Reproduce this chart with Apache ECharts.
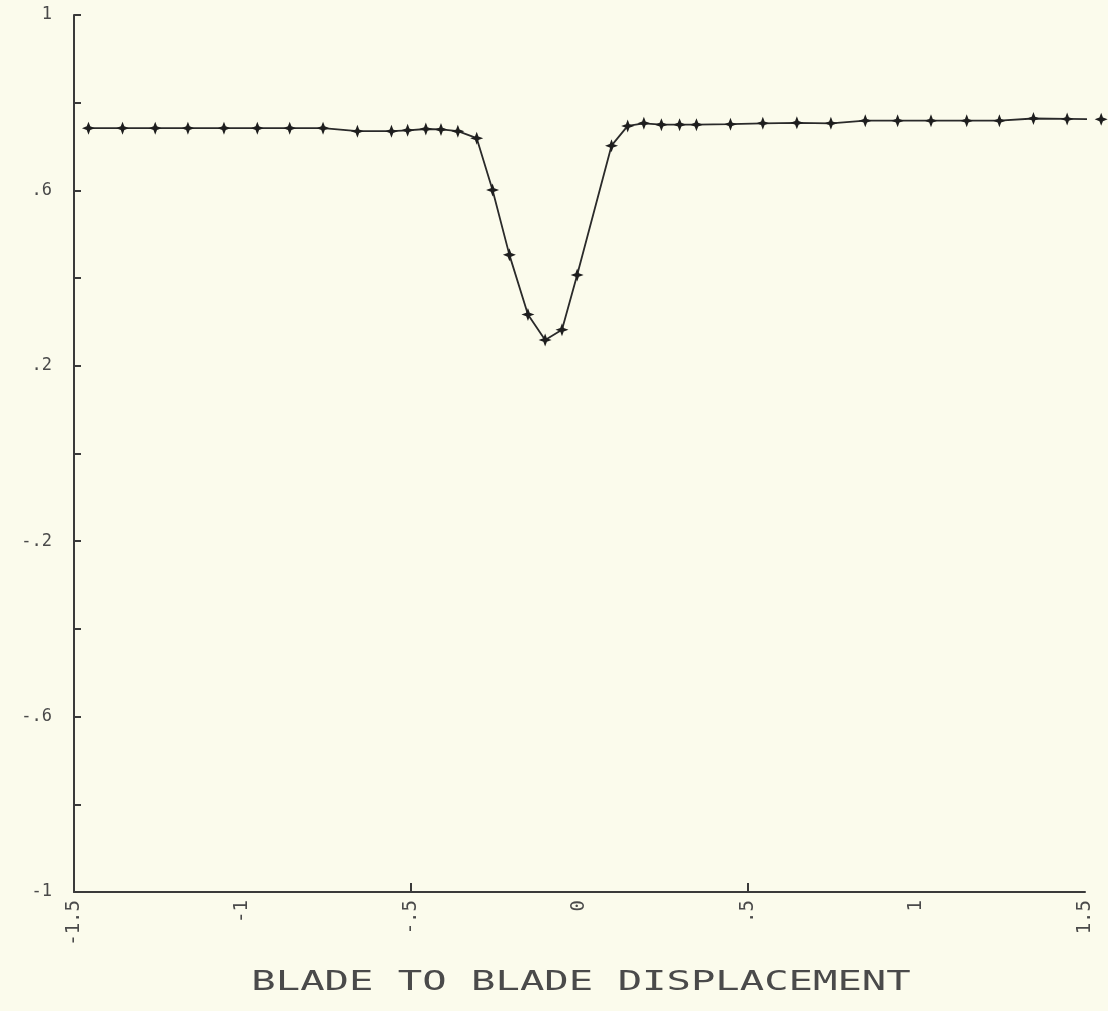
<!DOCTYPE html>
<html>
<head>
<meta charset="utf-8">
<script src="https://cdn.jsdelivr.net/npm/echarts@6/dist/echarts.min.js"></script>
<style>
html,body{margin:0;padding:0;background:#fbfbec;}
#chart{width:1108px;height:1011px;}
</style>
</head>
<body>
<div id="chart"></div>
<script>
const xValues = [-1.457,-1.356,-1.259,-1.162,-1.055,-0.956,-0.860,-0.761,-0.659,-0.558,-0.510,-0.456,-0.411,-0.361,-0.305,-0.258,-0.208,-0.153,-0.102,-0.052,-0.007,0.095,0.143,0.191,0.243,0.297,0.347,0.448,0.544,0.645,0.746,0.848,0.944,1.043,1.149,1.246,1.347,1.447,1.548];
const yValues = [0.742,0.742,0.742,0.742,0.742,0.742,0.742,0.742,0.735,0.735,0.737,0.740,0.739,0.735,0.719,0.601,0.453,0.317,0.259,0.282,0.407,0.702,0.747,0.753,0.750,0.750,0.750,0.751,0.753,0.754,0.753,0.759,0.759,0.759,0.759,0.759,0.764,0.763,0.762];
const xTickLabels = [-1.5,-1,-0.5,0,0.5,1,1.5];
const yTickLabels = [1,0.6,0.2,-0.2,-0.6,-1];
const yTicks = [-1,-0.8,-0.6,-0.4,-0.2,0,0.2,0.4,0.6,0.8,1];
const xTicks = [-0.5,0.5];
const xTitle = 'BLADE TO BLADE DISPLACEMENT';

function fmt(v){
  if (v === 0) return '0';
  let s = String(Math.round(v*100)/100);
  s = s.replace(/^0\./,'.').replace(/^-0\./,'-.');
  return s;
}

// asterisk-like star path
function starPath(n, rOut, rIn){
  let d = '';
  for (let i=0;i<2*n;i++){
    const r = i%2===0 ? rOut : rIn;
    const a = Math.PI*i/n - Math.PI/2;
    d += (i===0?'M':'L') + (r*Math.cos(a)).toFixed(2) + ',' + (r*Math.sin(a)).toFixed(2) + ' ';
  }
  return 'path://' + d + 'Z';
}

const pts = xValues.map((x,i)=>[x, yValues[i]]);
const chart = echarts.init(document.getElementById('chart'), null, {renderer:'canvas'});
chart.setOption({
  backgroundColor:'#fbfbec',
  animation:false,
  grid:{left:74, right:23, top:15, bottom:119, containLabel:false},
  xAxis:{
    type:'value', min:-1.5, max:1.5, interval:0.5,
    axisLine:{show:true, onZero:false, lineStyle:{color:'#3a3a3a', width:2}},
    axisTick:{show:true, inside:true, length:9, customValues:xTicks, lineStyle:{color:'#3a3a3a', width:2}},
    splitLine:{show:false},
    axisLabel:{show:true, rotate:90, margin:8, customValues:xTickLabels, formatter:fmt,
      fontFamily:'DejaVu Sans Mono', fontSize:19, color:'#4a4a4a'}
  },
  yAxis:{
    type:'value', min:-1, max:1, interval:0.2,
    axisLine:{show:true, onZero:false, lineStyle:{color:'#3a3a3a', width:2}},
    axisTick:{show:true, inside:true, length:7, customValues:yTicks, lineStyle:{color:'#3a3a3a', width:2}},
    splitLine:{show:false},
    axisLabel:{show:true, margin:22, customValues:yTickLabels, formatter:fmt,
      fontFamily:'DejaVu Sans Mono', fontSize:17, color:'#4a4a4a'}
  },
  graphic:[{
    type:'text', x:581, y:983, scaleX:1.56,
    style:{text:xTitle, font:'26px "DejaVu Sans Mono"', fill:'#4a4a4a', textAlign:'center', textVerticalAlign:'middle'}
  }],
  series:[{
    type:'line', data:pts, clip:false,
    symbol: starPath(4, 6, 2.3), symbolSize:13,
    lineStyle:{color:'#2a2a2a', width:1.8},
    itemStyle:{color:'#1e1e1e'}
  }]
});
</script>
</body>
</html>
